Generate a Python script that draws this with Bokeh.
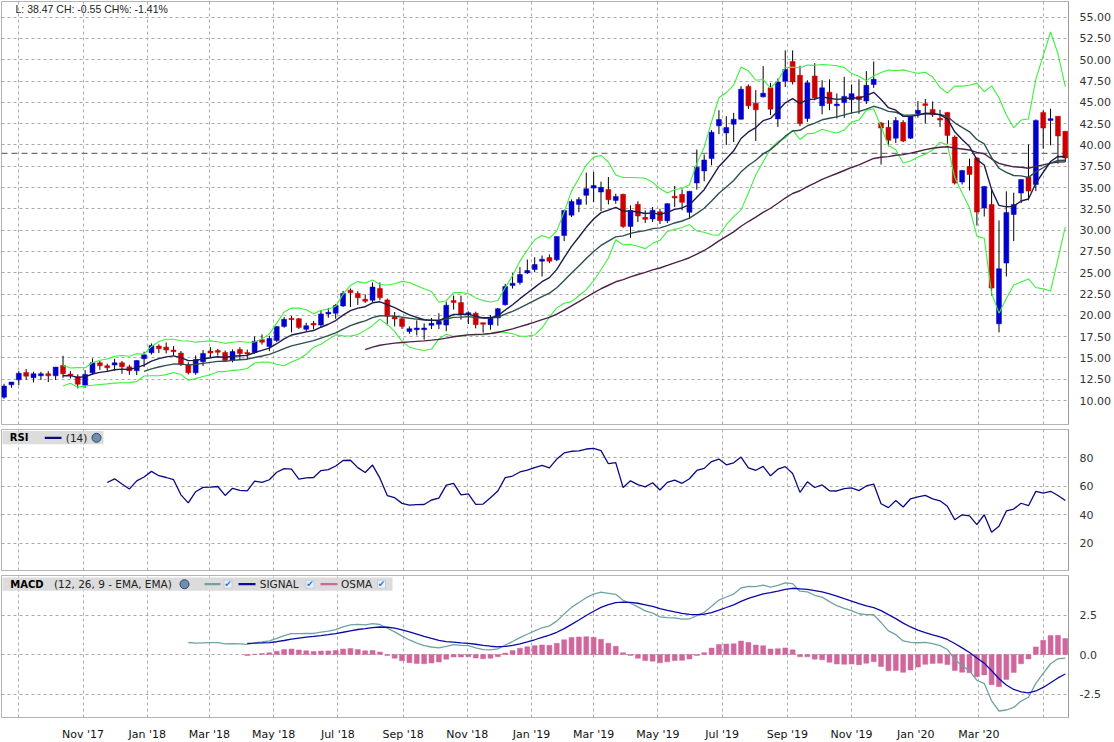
import numpy as np
import pandas as pd
from bokeh.plotting import figure
from bokeh.layouts import column
from bokeh.models import (Range1d, FixedTicker, Grid, Span, Label, ColumnDataSource,
                          DatetimeTickFormatter, PrintfTickFormatter)
from bokeh.embed import file_html
from bokeh.resources import INLINE

# ---------------- data (weekly candles) ----------------
week_start = "2017-08-18"
opens = [10.39, 11.84, 12.43, 13.29, 12.67, 12.9, 13.14, 12.9, 14.12, 13.1,
         12.78, 11.8, 13.25, 14.43, 14.08, 14.16, 14.43, 13.96, 13.49, 14.9,
         15.6, 16.39, 16.27, 15.92, 15.57, 14.16, 13.25, 14.55, 15.8, 15.87,
         15.63, 14.69, 15.98, 15.63, 15.63, 17.13, 16.34, 17.05, 18.7, 19.65,
         19.6, 18.35, 19.06, 18.86, 20.16, 20.24, 21.1, 22.95, 22.56, 21.89,
         21.77, 23.15, 21.81, 19.88, 19.61, 18.11, 18.31, 18.31, 18.82, 18.94,
         18.86, 21.73, 21.49, 20.08, 20.24, 19.14, 18.9, 19.69, 21.25, 23.49,
         23.84, 24.98, 25.37, 26.35, 26.78, 26.51, 29.37, 31.76, 33.02, 34.08,
         34.94, 34.47, 34.78, 33.49, 34.2, 30.43, 33.03, 31.5, 31.31, 32.17,
         31.11, 33.97, 34.2, 32.09, 35.54, 36.95, 38.4, 42.24, 41.41, 42.43,
         43.02, 46.9, 44.9, 45.65, 46.7, 43.06, 47.48, 49.8, 48.19, 43.1,
         48.1, 44.6, 46.2, 44.6, 44.97, 45.31, 45.7, 45.15, 47.1, 42.58,
         42.07, 40.8, 42.65, 40.8, 43.67, 44.84, 44.17, 43.12, 43.82, 40.92,
         35.64, 37.47, 38.46, 32.59, 33.01, 19.0, 26.13, 31.84, 34.35, 36.23,
         35.36, 43.82, 42.88, 43.36, 41.6]
highs = [11.96, 12.16, 13.45, 13.69, 13.37, 13.37, 13.45, 13.92, 15.25, 13.45,
         13.06, 13.57, 14.94, 14.63, 14.31, 14.9, 14.63, 14.2, 14.7, 15.73,
         16.7, 16.59, 16.82, 16.39, 15.8, 14.5, 15.29, 15.92, 16.27, 16.06,
         15.87, 16.0, 16.26, 15.98, 17.52, 17.76, 17.6, 18.7, 19.8, 19.92,
         19.69, 19.13, 19.33, 20.59, 20.87, 21.34, 22.87, 23.15, 22.83, 22.48,
         23.86, 23.86, 21.97, 20.39, 19.8, 18.7, 19.41, 19.06, 19.69, 20.24,
         21.6, 22.31, 22.31, 20.47, 20.43, 19.14, 20.04, 20.86, 23.69, 24.94,
         25.65, 26.55, 26.82, 27.02, 27.14, 29.25, 32.39, 33.61, 33.88, 36.75,
         36.82, 35.69, 36.24, 34.27, 34.27, 32.9, 33.39, 32.33, 32.72, 32.52,
         33.15, 35.19, 34.79, 34.56, 39.46, 38.87, 41.73, 44.08, 43.38, 43.77,
         46.9, 47.1, 46.43, 49.25, 47.29, 47.8, 51.1, 51.1, 49.3, 47.6,
         49.6, 47.6, 47.7, 46.04, 48.0, 47.1, 47.7, 48.66, 49.8, 42.7,
         42.9, 43.28, 42.9, 43.36, 45.15, 45.4, 45.1, 44.13, 43.82, 41.12,
         37.08, 38.38, 38.57, 35.13, 34.85, 31.14, 34.55, 34.39, 35.95, 40.06,
         43.0, 44.06, 44.25, 43.36, 41.6]
lows = [10.2, 11.49, 11.8, 12.43, 12.12, 12.4, 12.16, 12.4, 12.67, 12.59,
        11.41, 11.49, 13.06, 13.6, 13.45, 13.49, 13.14, 13.02, 12.98, 13.92,
        15.4, 15.57, 15.53, 15.29, 14.04, 13.06, 13.02, 14.04, 15.1, 15.28,
        14.6, 14.49, 14.76, 14.84, 15.47, 16.57, 15.79, 16.85, 18.54, 17.99,
        18.39, 18.07, 18.35, 18.62, 19.72, 19.6, 20.98, 20.98, 21.22, 21.46,
        21.57, 21.77, 18.82, 18.7, 18.39, 17.83, 17.64, 17.14, 18.39, 18.39,
        18.12, 20.67, 19.49, 18.98, 18.47, 17.96, 18.31, 18.78, 21.14, 23.14,
        23.6, 24.86, 25.06, 24.55, 26.12, 26.35, 28.71, 31.53, 32.12, 32.98,
        33.29, 32.24, 33.02, 33.1, 30.27, 29.1, 30.95, 30.84, 30.95, 30.72,
        30.84, 32.72, 32.33, 31.31, 34.75, 35.74, 37.61, 41.26, 40.0, 40.35,
        42.98, 44.24, 40.47, 45.57, 43.5, 42.12, 46.8, 47.1, 42.2, 42.7,
        45.25, 43.6, 44.08, 43.1, 43.18, 43.66, 43.66, 44.8, 46.7, 37.7,
        39.84, 40.22, 40.33, 40.7, 43.2, 42.5, 43.28, 42.1, 40.14, 35.36,
        35.36, 34.66, 30.55, 31.6, 22.33, 18.0, 24.56, 28.71, 33.17, 33.49,
        34.58, 39.56, 39.95, 37.8, 38.0]
closes = [11.69, 12.16, 13.2, 12.86, 13.14, 13.14, 12.9, 13.92, 13.14, 12.94,
          11.92, 13.06, 14.43, 14.08, 13.84, 14.43, 13.96, 13.49, 14.7, 15.37,
          16.47, 16.08, 15.92, 15.73, 14.24, 13.25, 14.82, 15.53, 15.57, 15.67,
          14.69, 15.75, 15.51, 15.47, 16.97, 16.85, 17.28, 18.7, 19.53, 19.49,
          18.58, 18.78, 18.86, 20.16, 20.35, 21.14, 22.56, 22.64, 22.05, 21.65,
          23.31, 22.05, 19.88, 19.57, 18.7, 18.43, 18.5, 18.51, 19.06, 19.29,
          21.18, 21.49, 20.16, 20.31, 18.9, 18.94, 19.76, 20.78, 23.37, 23.76,
          24.78, 25.25, 25.96, 26.59, 26.35, 29.25, 32.31, 33.37, 33.61, 34.86,
          35.25, 35.02, 33.57, 33.96, 30.43, 32.31, 31.66, 31.27, 32.33, 31.11,
          33.11, 33.78, 33.26, 34.56, 37.38, 38.24, 41.49, 42.98, 42.04, 43.02,
          46.54, 44.59, 44.12, 46.07, 44.2, 47.4, 48.85, 47.4, 42.5, 47.3,
          45.5, 46.7, 44.86, 44.8, 45.7, 46.02, 45.31, 47.0, 47.7, 41.98,
          40.54, 42.88, 40.45, 43.36, 44.06, 44.64, 43.54, 42.92, 41.12, 35.52,
          37.0, 36.54, 32.12, 35.13, 23.2, 25.47, 32.08, 33.01, 35.95, 34.58,
          42.88, 41.98, 43.08, 41.05, 38.47]
last_price = 38.47
change = -0.55
change_pct = -1.41
prev_close = 39.02

price_ticks = [10.0, 12.5, 15.0, 17.5, 20.0, 22.5, 25.0, 27.5, 30.0, 32.5,
               35.0, 37.5, 40.0, 42.5, 45.0, 47.5, 50.0, 52.5, 55.0]
rsi_ticks = [20, 40, 60, 80]
macd_ticks = [-2.5, 0.0, 2.5]
grid_months = pd.date_range("2017-09-01", "2020-05-01", freq="2MS")
label_months = grid_months[1:-1]

# ---------------- indicators computed from the closes ----------------
c = np.array(closes, dtype=float)
n = len(c)
dates = pd.date_range(week_start, periods=n, freq="7D")


def ema(a, k, start):
    out = np.full(n, np.nan)
    s = start + k - 1
    out[s] = a[start:s + 1].mean()
    al = 2.0 / (k + 1)
    for i in range(s + 1, n):
        out[i] = al * a[i] + (1 - al) * out[i - 1]
    return out


ema9 = ema(c, 9, 0)
ema20 = ema(c, 20, 0)
ema50 = ema(c, 50, 0)
dev9 = np.full(n, np.nan)
for i in range(8, n):
    dev9[i] = np.sqrt(np.mean((c[i - 8:i + 1] - ema9[i]) ** 2))
bb_up = ema9 + 2 * dev9
bb_dn = ema9 - 2 * dev9

d = np.diff(c)
g = np.maximum(d, 0)
ls = np.maximum(-d, 0)
rsi = np.full(n, np.nan)
ag, al_ = g[:14].mean(), ls[:14].mean()
rsi[14] = 100 - 100 / (1 + ag / al_)
for i in range(15, n):
    ag = (ag * 13 + g[i - 1]) / 14
    al_ = (al_ * 13 + ls[i - 1]) / 14
    rsi[i] = 100 - 100 / (1 + ag / al_)

macd = ema(c, 12, 0) - ema(c, 26, 0)
signal = ema(macd, 9, 25)
osma = macd - signal

# ---------------- geometry helpers (reference pixels -> data) ----------------
DAY = 86400000.0
base = pd.Timestamp("2017-09-01")


def xref(px):
    return (base + pd.Timedelta(days=(px - 18.3) / 1.05283)).value / 1e6


def main_y(py):
    return 10 + (400 - py) / 8.5185


def rsi_y(py):
    return (571.2 - py) / 1.4233


def macd_y(py):
    return (654 - py) / 15.8


FW = 1067
xr = Range1d(xref(1), xref(1068))
FONT = "DejaVu Sans"
GRIDC = "#ababab"


def make_fig(yr, fh, bt, bb, yt, fmt, xaxis=False):
    f = figure(x_axis_type="datetime", x_range=xr, y_range=yr,
               frame_width=FW, frame_height=fh,
               min_border_left=1, min_border_right=44, min_border_top=bt,
               min_border_bottom=bb, toolbar_location=None, output_backend="svg",
               x_axis_location="below" if xaxis else None, y_axis_location="right")
    f.grid.visible = False
    f.outline_line_color = "#b4b4b4"
    f.background_fill_color = "white"
    f.border_fill_color = "white"
    f.add_layout(Grid(dimension=0, ticker=FixedTicker(ticks=[t.value / 1e6 for t in grid_months]),
                      grid_line_color=GRIDC, grid_line_dash="3 3", grid_line_width=1))
    f.add_layout(Grid(dimension=1, ticker=FixedTicker(ticks=yt),
                      grid_line_color=GRIDC, grid_line_dash="3 3", grid_line_width=1))
    ax = f.yaxis[0]
    ax.ticker = FixedTicker(ticks=yt)
    ax.formatter = PrintfTickFormatter(format=fmt)
    ax.major_tick_line_color = None
    ax.minor_tick_line_color = None
    ax.axis_line_color = "#9a9a9a"
    ax.major_label_text_font = FONT
    ax.major_label_text_font_size = "11px"
    ax.major_label_text_color = "#333333"
    ax.major_label_standoff = 5
    return f


# ---------------- main price panel ----------------
p1 = make_fig(Range1d(main_y(424), main_y(1)), 423, 1, 5, price_ticks, "%.2f")
p1.add_layout(Span(location=prev_close, dimension="width", line_color="#707070",
                   line_dash="6 4", line_width=1.3, level="underlay"))

o = np.array(opens)
up = c >= o
src = ColumnDataSource(dict(
    x=dates, h=highs, l=lows,
    top=np.maximum(o, c), bottom=np.minimum(o, c),
    color=np.where(up, "#0000cc", "#cc0000"),
))
p1.segment(x0="x", y0="h", x1="x", y1="l", source=src, line_color="black", line_width=1)
p1.vbar(x="x", width=4.7 * DAY, top="top", bottom="bottom", source=src,
        fill_color="color", line_color="color", line_width=0.5)

isrc = ColumnDataSource(dict(x=dates, up=bb_up, dn=bb_dn, e9=ema9, e20=ema20, e50=ema50))
p1.line("x", "up", source=isrc, line_color="#3cf03c", line_width=1.1)
p1.line("x", "dn", source=isrc, line_color="#3cf03c", line_width=1.1)
p1.line("x", "e50", source=isrc, line_color="#4c2148", line_width=1.4)
p1.line("x", "e20", source=isrc, line_color="#2d4f4f", line_width=1.4)
p1.line("x", "e9", source=isrc, line_color="#1c1c4c", line_width=1.4)

p1.add_layout(Label(x=xref(15), y=main_y(8.3),
                    text=f"L: {last_price:.2f} CH: {change:.2f} CH%: {change_pct:.2f}%",
                    text_font="Liberation Sans", text_font_size="10.5px", text_color="#222222",
                    text_baseline="middle", text_align="left"))

# ---------------- RSI panel ----------------
p2 = make_fig(Range1d(rsi_y(570), rsi_y(429)), 141, 0, 5, rsi_ticks, "%d")
rsrc = ColumnDataSource(dict(x=dates, rsi=rsi))
p2.line("x", "rsi", source=rsrc, line_color="#0a0a80", line_width=1.3)

ry = rsi_y(437.3)
p2.quad(left=[xref(2)], right=[xref(103)], bottom=[rsi_y(443.8)], top=[rsi_y(430.6)],
        fill_color="#dcdcdc", line_color=None)
p2.segment(x0=[xref(44.3)], y0=[ry], x1=[xref(61)], y1=[ry], line_color="#0a0a80", line_width=2.2)
p2.scatter(x=[xref(96)], y=[ry], size=9, marker="circle", fill_color="#6d8fb3", line_color="#33475b")
p2.add_layout(Label(x=xref(9.3), y=ry, text="RSI", text_font=FONT, text_font_size="10px",
                    text_font_style="bold", text_color="black", text_baseline="middle"))
p2.add_layout(Label(x=xref(65.3), y=ry, text="(14)", text_font=FONT, text_font_size="10.5px",
                    text_color="#222222", text_baseline="middle"))

# ---------------- MACD panel ----------------
p3 = make_fig(Range1d(macd_y(717), macd_y(575)), 142, 0, 18, macd_ticks, "%.1f", xaxis=True)
msrc = ColumnDataSource(dict(x=dates, macd=macd, sig=signal, osma=osma))
p3.vbar(x="x", width=4.7 * DAY, top="osma", bottom=0, source=msrc,
        fill_color="#d0679c", line_color="#d0679c", line_width=0.5)
p3.line("x", "macd", source=msrc, line_color="#6fa3a3", line_width=1.3)
p3.line("x", "sig", source=msrc, line_color="#0a0aa8", line_width=1.3)

xa = p3.xaxis[0]
xa.ticker = FixedTicker(ticks=[t.value / 1e6 for t in label_months])
fmt = "%b '%y"
xa.formatter = DatetimeTickFormatter(microseconds=fmt, milliseconds=fmt, seconds=fmt, minsec=fmt,
                                     minutes=fmt, hourmin=fmt, hours=fmt, days=fmt,
                                     months=fmt, years=fmt)
xa.axis_line_color = None
xa.major_tick_line_color = None
xa.minor_tick_line_color = None
xa.major_label_text_font = FONT
xa.major_label_text_font_size = "11px"
xa.major_label_text_color = "#111111"
xa.major_label_standoff = 4

my = macd_y(583.7)
p3.quad(left=[xref(2)], right=[xref(392)], bottom=[macd_y(590.3)], top=[macd_y(577)],
        fill_color="#dcdcdc", line_color=None)
p3.add_layout(Label(x=xref(9.8), y=my, text="MACD", text_font=FONT, text_font_size="10px",
                    text_font_style="bold", text_color="black", text_baseline="middle"))
p3.add_layout(Label(x=xref(53.5), y=my, text="(12, 26, 9 - EMA, EMA)", text_font=FONT,
                    text_font_size="10.5px", text_color="#222222", text_baseline="middle"))
p3.scatter(x=[xref(184)], y=[my], size=9, marker="circle", fill_color="#6d8fb3", line_color="#33475b")
for x0, x1, col in [(204, 220, "#6fa3a3"), (238, 255, "#0a0aa8"), (320, 337, "#d0679c")]:
    p3.segment(x0=[xref(x0)], y0=[my], x1=[xref(x1)], y1=[my], line_color=col, line_width=2.2)
for txt, xx in [("SIGNAL", 259.3), ("OSMA", 340.5)]:
    p3.add_layout(Label(x=xref(xx), y=my, text=txt, text_font=FONT, text_font_size="10.5px",
                        text_color="#222222", text_baseline="middle"))
for xx in [227.5, 309.5, 381]:
    p3.scatter(x=[xref(xx)], y=[my], size=8, marker="square", fill_color="#eef3fb", line_color="#c4ccd8")
    p3.add_layout(Label(x=xref(xx), y=my, text="\u2714", text_font=FONT, text_font_size="9px",
                        text_color="#2a72e0", text_baseline="middle", text_align="center"))

layout = column(p1, p2, p3, spacing=0)
open("out.html", "w").write(file_html(layout, INLINE))
